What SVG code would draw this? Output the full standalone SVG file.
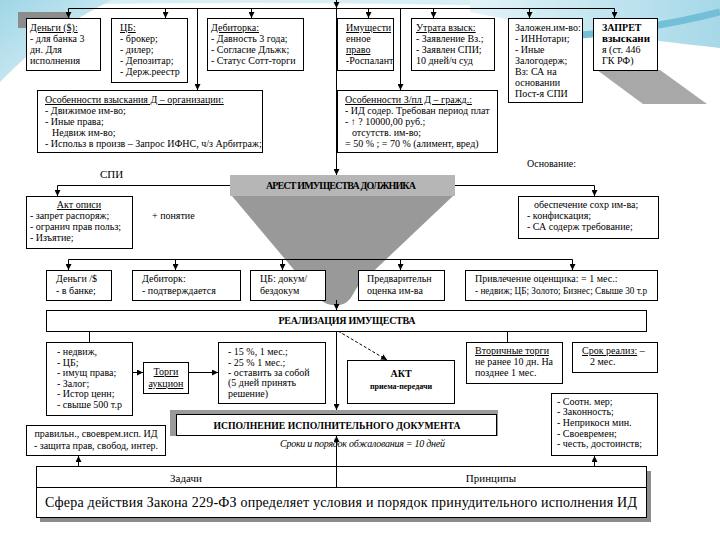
<svg xmlns="http://www.w3.org/2000/svg" width="720" height="540" viewBox="0 0 720 540">
<defs>
<style>
.b{fill:#fff;stroke:#000;stroke-width:1}
.t{font-family:"Liberation Serif","Times New Roman",serif;font-size:10px;fill:#000}
.u{text-decoration:underline}
.bd{font-weight:bold}
.m{text-anchor:middle}
.c{fill:none;stroke:#000;stroke-width:1}
.ca{fill:none;stroke:#000;stroke-width:1;marker-end:url(#ah)}
.sh{fill:#9a9a9a}
</style>
<marker id="ah" viewBox="0 0 6 6" refX="6" refY="3" markerWidth="6" markerHeight="6" markerUnits="userSpaceOnUse" orient="auto"><path d="M0,0L6,3L0,6z" fill="#000"/></marker>
<linearGradient id="bgL" x1="0" y1="0" x2="1" y2="1"><stop offset="0" stop-color="#9fd6e6"/><stop offset="1" stop-color="#e6f5f9"/></linearGradient>
<linearGradient id="bgR" x1="0" y1="0" x2="1" y2="0"><stop offset="0" stop-color="#e3f4f8"/><stop offset="1" stop-color="#a6d8e8"/></linearGradient>
</defs>
<rect width="720" height="540" fill="#fff"/>
<g id="background">
<path d="M100,0 L720,0 L720,14 Q450,0 100,4 Z" fill="#d8eff5"/>
<path d="M0,0 L112,0 Q50,30 0,82 Z" fill="url(#bgL)"/>
<path d="M470,0 L720,0 L720,48 Q650,40 600,34 Q540,26 470,12 Z" fill="url(#bgR)"/>
<path d="M570,36 Q650,30 720,12" fill="none" stroke="#74bfd8" stroke-width="7"/>
<path d="M18,12 H70 V18 H26 V28 H18 Z" fill="#8c8c8c"/>
</g>
<g id="funnel">
<rect x="230" y="175" width="225" height="21" fill="#b6b6b6"/>
<path d="M232,196 L453,196 L360,284 C352,292 352,304 338,305 C328,306 322,302 316,296 Z" fill="#999"/>
<text class="t bd m" x="341" y="189" textLength="150">АРЕСТ ИМУЩЕСТВА ДОЛЖНИКА</text>
</g>
<g id="connectors">
<path class="ca" d="M336.5,0 V8"/>
<path class="c" d="M68.5,8.5 H614.5"/>
<path class="ca" d="M68.5,8.5 V18"/>
<path class="ca" d="M165.5,8.5 V18"/>
<path class="ca" d="M251.5,8.5 V18"/>
<path class="ca" d="M368.5,8.5 V18"/>
<path class="ca" d="M433.5,8.5 V18"/>
<path class="ca" d="M529.5,8.5 V18"/>
<path class="ca" d="M614.5,8.5 V18"/>
<path class="ca" d="M197.5,8.5 V90"/>
<path class="ca" d="M400.5,8.5 V90"/>
<path class="ca" d="M336.5,8.5 V175"/>
<path class="c" d="M230,185.5 H57.5"/>
<path class="ca" d="M57.5,185.5 V196"/>
<path class="c" d="M455,185.5 H594.5"/>
<path class="ca" d="M594.5,185.5 V196"/>
<path class="c" d="M68.5,259.5 H572.5"/>
<path class="ca" d="M68.5,259.5 V270"/>
<path class="ca" d="M175.5,259.5 V270"/>
<path class="ca" d="M282.5,259.5 V270"/>
<path class="ca" d="M400.5,259.5 V270"/>
<path class="ca" d="M572.5,259.5 V270"/>
<path class="ca" d="M336.5,300 V310"/>
<path class="c" d="M89.5,331 V342"/>
<path class="c" d="M507.5,331 V342"/>
<path class="ca" d="M336.5,331 V410"/>
<path class="ca" d="M338,331 L387,360" stroke-dasharray="3,2"/>
<path class="ca" d="M133,372.5 H143"/>
<path class="ca" d="M188,372.5 H218"/>
<path class="ca" d="M78.5,466 V456"/>
<path class="ca" d="M594.5,466 V456"/>
</g>
<g id="n-dengi">
<rect class="b" x="26.5" y="18.5" width="74" height="52"/>
<text class="t u" x="30" y="31">Деньги ($):</text>
<text class="t" x="30" y="42">- для банка 3</text>
<text class="t" x="30" y="53">дн. Для</text>
<text class="t" x="30" y="64">исполнения</text>
</g>
<g id="n-cb">
<rect class="b" x="111.5" y="18.5" width="76" height="64"/>
<text class="t u" x="120" y="31">ЦБ:</text>
<text class="t" x="120" y="42">- брокер;</text>
<text class="t" x="120" y="53">- дилер;</text>
<text class="t" x="120" y="64">- Депозитар;</text>
<text class="t" x="120" y="75">- Держ.реестр</text>
</g>
<g id="n-debitorka">
<rect class="b" x="207.5" y="18.5" width="96" height="52"/>
<text class="t u" x="211" y="31">Дебиторка:</text>
<text class="t" x="211" y="42">- Давность 3 года;</text>
<text class="t" x="211" y="53">- Согласие Дльжк;</text>
<text class="t" x="211" y="64">- Статус Сотт-торги</text>
</g>
<g id="n-imush">
<rect class="b" x="337.5" y="18.5" width="56" height="52"/>
<text class="t u" x="346" y="31">Имущести</text>
<text class="t" x="346" y="42">енное</text>
<text class="t u" x="346" y="53">право</text>
<text class="t" x="346" y="64">-Роспалант</text>
</g>
<g id="n-utrata">
<rect class="b" x="411.5" y="18.5" width="83" height="52"/>
<text class="t u" x="416" y="31">Утрата взыск:</text>
<text class="t" x="416" y="42">- Заявление Вз.;</text>
<text class="t" x="416" y="53">- Заявлен СПИ;</text>
<text class="t" x="416" y="64">10 дней/ч суд</text>
</g>
<g id="n-zalog">
<rect class="b" x="508.5" y="18.5" width="74" height="84"/>
<text class="t" x="515" y="31">Заложен.им-во:</text>
<text class="t" x="515" y="42">- ИННотари;</text>
<text class="t" x="515" y="53">- Иные</text>
<text class="t" x="515" y="64">Залогодерж;</text>
<text class="t" x="515" y="75">Вз: СА на</text>
<text class="t" x="515" y="86">основании</text>
<text class="t" x="515" y="97">Пост-я СПИ</text>
</g>
<g id="n-zapret">
<path d="M597,70 L660,70 L707,104 L643,104 Z" fill="#a8a8a8"/>
<rect class="b" x="593.5" y="18.5" width="64" height="52"/>
<text class="t bd" x="602" y="31">ЗАПРЕТ</text>
<text class="t bd" x="602" y="42" textLength="48" lengthAdjust="spacingAndGlyphs">взыскани</text>
<text class="t" x="602" y="53">я (ст. 446</text>
<text class="t" x="602" y="64">ГК РФ)</text>
</g>
<g id="n-osob-org">
<rect class="b" x="37.5" y="90.5" width="225" height="62"/>
<text class="t u" x="45" y="103">Особенности взыскания Д – организации:</text>
<text class="t" x="45" y="114">- Движимое им-во;</text>
<text class="t" x="45" y="125">- Иные права;</text>
<text class="t" x="52" y="136">Недвиж им-во;</text>
<text class="t" x="45" y="147">- Использ в произв – Запрос ИФНС, ч/з Арбитраж;</text>
</g>
<g id="n-osob-gr">
<rect class="b" x="337.5" y="90.5" width="160" height="62"/>
<text class="t u" x="345" y="103">Особенности З/пл Д – гражд.:</text>
<text class="t" x="345" y="114">- ИД содер. Требован период плат</text>
<text class="t" x="345" y="125">- ↑ ? 10000,00 руб.;</text>
<text class="t" x="352" y="136">отсутств. им-во;</text>
<text class="t" x="345" y="147">= 50 % ; = 70 % (алимент, вред)</text>
</g>
<g id="labels">
<text class="t" x="527" y="167">Основание:</text>
<text class="t" x="100" y="178" style="font-size:11px">СПИ</text>
<text class="t" x="152" y="219">+ понятие</text>
</g>
<g id="n-akt-opisi">
<rect class="b" x="26.5" y="196.5" width="106" height="52"/>
<text class="t u m" x="79" y="208">Акт описи</text>
<text class="t" x="30" y="219">- запрет распоряж;</text>
<text class="t" x="30" y="230">- огранич прав польз;</text>
<text class="t" x="30" y="241">- Изъятие;</text>
</g>
<g id="n-osnovanie">
<rect class="b" x="518.5" y="196.5" width="140" height="42"/>
<text class="t" x="534" y="208">обеспечение сохр им-ва;</text>
<text class="t" x="527" y="219">- конфискация;</text>
<text class="t" x="527" y="230">- СА содерж требование;</text>
</g>
<g id="n-dengi2">
<rect class="b" x="46.5" y="270.5" width="65" height="30"/>
<text class="t" x="56" y="282">Деньги /$</text>
<text class="t" x="56" y="294">- в банке;</text>
</g>
<g id="n-debitork2">
<rect class="b" x="132.5" y="270.5" width="108" height="30"/>
<text class="t" x="142" y="282">Дебиторк:</text>
<text class="t" x="142" y="294">- подтверждается</text>
</g>
<g id="n-cb2">
<rect class="b" x="250.5" y="270.5" width="75" height="30"/>
<text class="t" x="260" y="282">ЦБ: докум/</text>
<text class="t" x="260" y="294">бездокум</text>
</g>
<g id="n-predv">
<rect class="b" x="358.5" y="270.5" width="86" height="30"/>
<text class="t" x="367" y="282">Предварительн</text>
<text class="t" x="367" y="294">оценка им-ва</text>
</g>
<g id="n-ocenshik">
<rect class="b" x="465.5" y="270.5" width="192" height="30"/>
<text class="t" x="475" y="282">Привлечение оценщика: = 1 мес.:</text>
<text class="t" x="475" y="294" textLength="172" lengthAdjust="spacingAndGlyphs">- недвиж; ЦБ; Золото; Бизнес; Свыше 30 т.р</text>
</g>
<g id="n-realiz">
<rect class="b" x="46.5" y="310.5" width="600" height="21"/>
<text class="t bd m" x="347" y="324" textLength="137">РЕАЛИЗАЦИЯ ИМУЩЕСТВА</text>
</g>
<g id="n-spisok">
<rect class="b" x="46.5" y="342.5" width="86" height="73"/>
<text class="t" x="57" y="355">- недвиж,</text>
<text class="t" x="57" y="366">- ЦБ;</text>
<text class="t" x="57" y="376">- имущ права;</text>
<text class="t" x="57" y="387">- Залог;</text>
<text class="t" x="57" y="397">- Истор ценн;</text>
<text class="t" x="57" y="408">- свыше 500 т.р</text>
</g>
<g id="n-torgi">
<rect class="b" x="143.5" y="362.5" width="45" height="31"/>
<text class="t u m" x="166" y="375">Торги</text>
<text class="t u m" x="166" y="387">аукцион</text>
</g>
<g id="n-proc">
<rect class="b" x="218.5" y="342.5" width="107" height="61"/>
<text class="t" x="228" y="355">- 15 %, 1 мес.;</text>
<text class="t" x="228" y="366">- 25 % 1 мес.;</text>
<text class="t" x="228" y="376">- оставить за собой</text>
<text class="t" x="228" y="386">(5 дней принять</text>
<text class="t" x="228" y="397">решение)</text>
</g>
<g id="n-akt-pp">
<rect class="b" x="347.5" y="360.5" width="107" height="43"/>
<text class="t bd m" x="401" y="377">АКТ</text>
<text class="t bd m" x="401" y="389" style="font-size:8px">приема-передачи</text>
</g>
<g id="n-vtorich">
<rect class="b" x="466.5" y="342.5" width="96" height="41"/>
<text class="t u" x="475" y="354">Вторичные торги</text>
<text class="t" x="475" y="365">не ранее 10 дн. На</text>
<text class="t" x="475" y="376">позднее 1 мес.</text>
</g>
<g id="n-srok">
<rect class="b" x="572.5" y="342.5" width="85" height="30"/>
<text class="t" x="582" y="354"><tspan class="u">Срок реализ:</tspan> –</text>
<text class="t" x="590" y="365">2 мес.</text>
</g>
<g id="n-ispoln">
<rect x="170" y="410" width="328" height="26" fill="#9a9a9a"/>
<rect class="b" x="176.5" y="414.5" width="320" height="21"/>
<text class="t bd m" x="337" y="429" textLength="247" lengthAdjust="spacingAndGlyphs">ИСПОЛНЕНИЕ ИСПОЛНИТЕЛЬНОГО ДОКУМЕНТА</text>
<text class="t" x="280" y="447" style="font-style:italic" textLength="165">Сроки и порядок обжалования = 10 дней</text>
</g>
<g id="n-zadachi-list">
<rect class="b" x="26.5" y="425.5" width="139" height="30"/>
<text class="t m" x="96" y="437">правильн., своеврем.исп. ИД</text>
<text class="t m" x="96" y="449">- защита прав, свобод, интер.</text>
</g>
<g id="n-princ-list">
<rect class="b" x="551.5" y="393.5" width="106" height="62"/>
<text class="t" x="557" y="405">- Соотн. мер;</text>
<text class="t" x="557" y="415">- Законность;</text>
<text class="t" x="557" y="426">- Неприкосн мин.</text>
<text class="t" x="557" y="437">- Своевремен;</text>
<text class="t" x="557" y="447">- честь, достоинств;</text>
</g>
<g id="n-main">
<rect x="40" y="471" width="611" height="51" fill="#8c8c8c"/>
<rect class="b" x="36.5" y="466.5" width="610" height="51"/>
<path class="c" d="M36.5,487.5 H646.5"/>
<path class="ca" d="M336.5,487.5 V436"/>
<text class="t m" x="186" y="482" style="font-size:11px">Задачи</text>
<text class="t m" x="491" y="482" style="font-size:11px">Принципы</text>
<text class="t" x="45" y="507" style="font-size:14px" textLength="592">Сфера действия Закона 229-ФЗ определяет условия и порядок принудительного исполнения ИД</text>
</g>
</svg>
